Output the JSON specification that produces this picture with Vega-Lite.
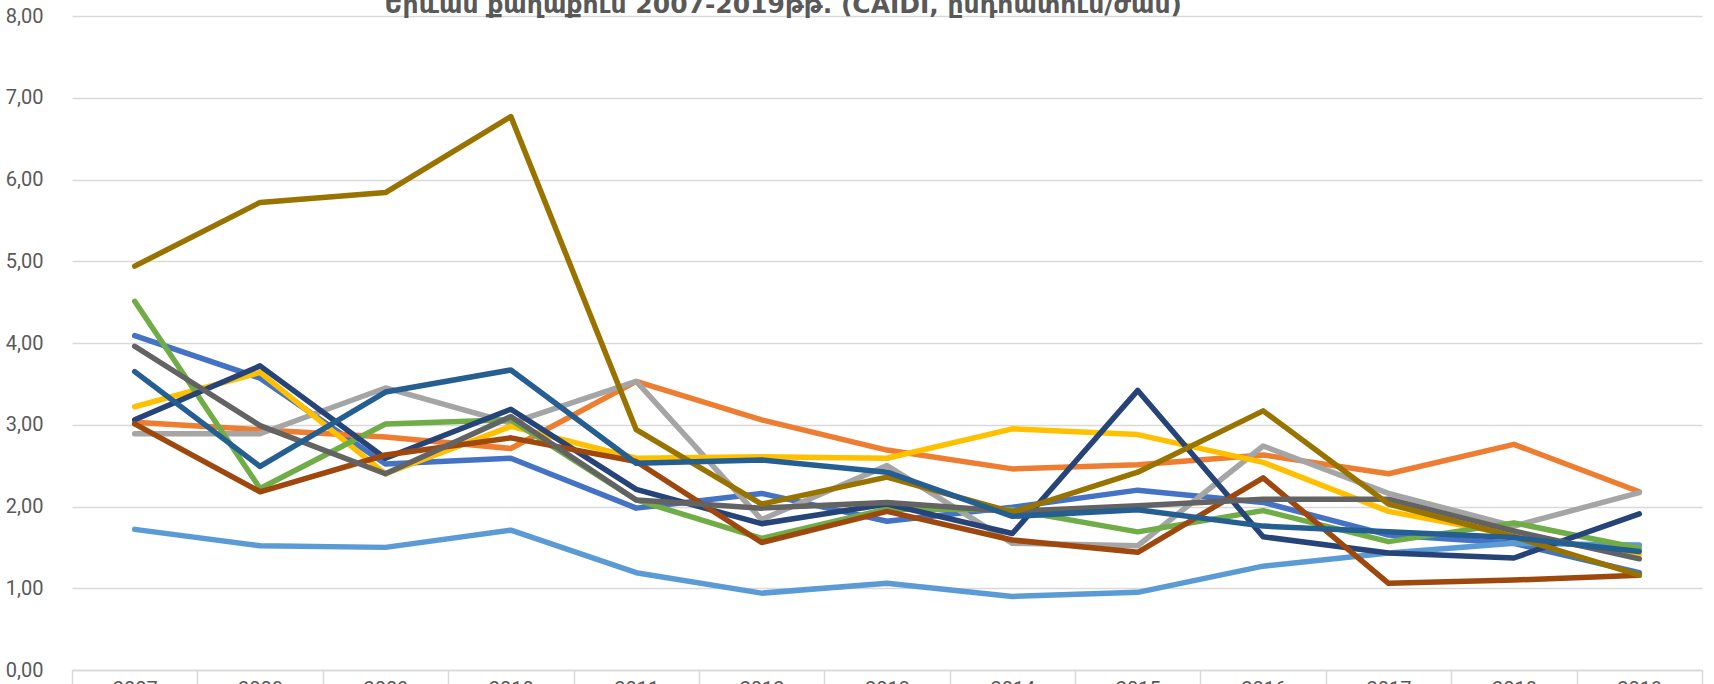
{
  "$schema": "https://vega.github.io/schema/vega-lite/v6.json",
  "autosize": "none",
  "width": 1630,
  "height": 654,
  "padding": {"left": 72, "top": 16, "right": 12, "bottom": 14},
  "background": "white",
  "title": {
    "text": "Երևան քաղաքում 2007-2019թթ. (CAIDI, ընդհատում/ժամ)",
    "anchor": "start",
    "dx": 379,
    "dy": 32,
    "offset": 0,
    "baseline": "alphabetic",
    "font": "DejaVu Sans",
    "fontSize": 25,
    "fontWeight": "bold",
    "color": "#595959"
  },
  "data": {
    "values": [
      {"year": "2007", "series": "S01", "value": 4.09}, {"year": "2008", "series": "S01", "value": 3.57}, {"year": "2009", "series": "S01", "value": 2.52}, {"year": "2010", "series": "S01", "value": 2.59}, {"year": "2011", "series": "S01", "value": 1.98}, {"year": "2012", "series": "S01", "value": 2.16}, {"year": "2013", "series": "S01", "value": 1.82}, {"year": "2014", "series": "S01", "value": 1.99}, {"year": "2015", "series": "S01", "value": 2.20}, {"year": "2016", "series": "S01", "value": 2.05}, {"year": "2017", "series": "S01", "value": 1.65}, {"year": "2018", "series": "S01", "value": 1.55}, {"year": "2019", "series": "S01", "value": 1.19},
      {"year": "2007", "series": "S02", "value": 3.03}, {"year": "2008", "series": "S02", "value": 2.94}, {"year": "2009", "series": "S02", "value": 2.85}, {"year": "2010", "series": "S02", "value": 2.71}, {"year": "2011", "series": "S02", "value": 3.53}, {"year": "2012", "series": "S02", "value": 3.06}, {"year": "2013", "series": "S02", "value": 2.69}, {"year": "2014", "series": "S02", "value": 2.46}, {"year": "2015", "series": "S02", "value": 2.51}, {"year": "2016", "series": "S02", "value": 2.63}, {"year": "2017", "series": "S02", "value": 2.40}, {"year": "2018", "series": "S02", "value": 2.76}, {"year": "2019", "series": "S02", "value": 2.18},
      {"year": "2007", "series": "S03", "value": 2.89}, {"year": "2008", "series": "S03", "value": 2.89}, {"year": "2009", "series": "S03", "value": 3.45}, {"year": "2010", "series": "S03", "value": 3.02}, {"year": "2011", "series": "S03", "value": 3.53}, {"year": "2012", "series": "S03", "value": 1.84}, {"year": "2013", "series": "S03", "value": 2.50}, {"year": "2014", "series": "S03", "value": 1.55}, {"year": "2015", "series": "S03", "value": 1.52}, {"year": "2016", "series": "S03", "value": 2.74}, {"year": "2017", "series": "S03", "value": 2.16}, {"year": "2018", "series": "S03", "value": 1.76}, {"year": "2019", "series": "S03", "value": 2.17},
      {"year": "2007", "series": "S04", "value": 3.22}, {"year": "2008", "series": "S04", "value": 3.64}, {"year": "2009", "series": "S04", "value": 2.40}, {"year": "2010", "series": "S04", "value": 2.98}, {"year": "2011", "series": "S04", "value": 2.59}, {"year": "2012", "series": "S04", "value": 2.61}, {"year": "2013", "series": "S04", "value": 2.59}, {"year": "2014", "series": "S04", "value": 2.95}, {"year": "2015", "series": "S04", "value": 2.88}, {"year": "2016", "series": "S04", "value": 2.54}, {"year": "2017", "series": "S04", "value": 1.94}, {"year": "2018", "series": "S04", "value": 1.65}, {"year": "2019", "series": "S04", "value": 1.41},
      {"year": "2007", "series": "S05", "value": 1.72}, {"year": "2008", "series": "S05", "value": 1.52}, {"year": "2009", "series": "S05", "value": 1.50}, {"year": "2010", "series": "S05", "value": 1.71}, {"year": "2011", "series": "S05", "value": 1.19}, {"year": "2012", "series": "S05", "value": 0.94}, {"year": "2013", "series": "S05", "value": 1.06}, {"year": "2014", "series": "S05", "value": 0.90}, {"year": "2015", "series": "S05", "value": 0.95}, {"year": "2016", "series": "S05", "value": 1.27}, {"year": "2017", "series": "S05", "value": 1.43}, {"year": "2018", "series": "S05", "value": 1.55}, {"year": "2019", "series": "S05", "value": 1.53},
      {"year": "2007", "series": "S06", "value": 4.51}, {"year": "2008", "series": "S06", "value": 2.22}, {"year": "2009", "series": "S06", "value": 3.01}, {"year": "2010", "series": "S06", "value": 3.06}, {"year": "2011", "series": "S06", "value": 2.08}, {"year": "2012", "series": "S06", "value": 1.61}, {"year": "2013", "series": "S06", "value": 1.97}, {"year": "2014", "series": "S06", "value": 1.96}, {"year": "2015", "series": "S06", "value": 1.69}, {"year": "2016", "series": "S06", "value": 1.95}, {"year": "2017", "series": "S06", "value": 1.57}, {"year": "2018", "series": "S06", "value": 1.80}, {"year": "2019", "series": "S06", "value": 1.49},
      {"year": "2007", "series": "S07", "value": 3.06}, {"year": "2008", "series": "S07", "value": 3.72}, {"year": "2009", "series": "S07", "value": 2.59}, {"year": "2010", "series": "S07", "value": 3.19}, {"year": "2011", "series": "S07", "value": 2.21}, {"year": "2012", "series": "S07", "value": 1.79}, {"year": "2013", "series": "S07", "value": 2.03}, {"year": "2014", "series": "S07", "value": 1.67}, {"year": "2015", "series": "S07", "value": 3.42}, {"year": "2016", "series": "S07", "value": 1.63}, {"year": "2017", "series": "S07", "value": 1.43}, {"year": "2018", "series": "S07", "value": 1.37}, {"year": "2019", "series": "S07", "value": 1.91},
      {"year": "2007", "series": "S08", "value": 3.01}, {"year": "2008", "series": "S08", "value": 2.18}, {"year": "2009", "series": "S08", "value": 2.63}, {"year": "2010", "series": "S08", "value": 2.84}, {"year": "2011", "series": "S08", "value": 2.55}, {"year": "2012", "series": "S08", "value": 1.56}, {"year": "2013", "series": "S08", "value": 1.94}, {"year": "2014", "series": "S08", "value": 1.59}, {"year": "2015", "series": "S08", "value": 1.44}, {"year": "2016", "series": "S08", "value": 2.35}, {"year": "2017", "series": "S08", "value": 1.06}, {"year": "2018", "series": "S08", "value": 1.10}, {"year": "2019", "series": "S08", "value": 1.16},
      {"year": "2007", "series": "S09", "value": 3.96}, {"year": "2008", "series": "S09", "value": 2.99}, {"year": "2009", "series": "S09", "value": 2.40}, {"year": "2010", "series": "S09", "value": 3.10}, {"year": "2011", "series": "S09", "value": 2.08}, {"year": "2012", "series": "S09", "value": 1.98}, {"year": "2013", "series": "S09", "value": 2.05}, {"year": "2014", "series": "S09", "value": 1.94}, {"year": "2015", "series": "S09", "value": 2.01}, {"year": "2016", "series": "S09", "value": 2.09}, {"year": "2017", "series": "S09", "value": 2.09}, {"year": "2018", "series": "S09", "value": 1.70}, {"year": "2019", "series": "S09", "value": 1.36},
      {"year": "2007", "series": "S10", "value": 4.94}, {"year": "2008", "series": "S10", "value": 5.72}, {"year": "2009", "series": "S10", "value": 5.84}, {"year": "2010", "series": "S10", "value": 6.77}, {"year": "2011", "series": "S10", "value": 2.94}, {"year": "2012", "series": "S10", "value": 2.03}, {"year": "2013", "series": "S10", "value": 2.36}, {"year": "2014", "series": "S10", "value": 1.93}, {"year": "2015", "series": "S10", "value": 2.42}, {"year": "2016", "series": "S10", "value": 3.17}, {"year": "2017", "series": "S10", "value": 2.03}, {"year": "2018", "series": "S10", "value": 1.63}, {"year": "2019", "series": "S10", "value": 1.16},
      {"year": "2007", "series": "S11", "value": 3.65}, {"year": "2008", "series": "S11", "value": 2.49}, {"year": "2009", "series": "S11", "value": 3.40}, {"year": "2010", "series": "S11", "value": 3.67}, {"year": "2011", "series": "S11", "value": 2.53}, {"year": "2012", "series": "S11", "value": 2.57}, {"year": "2013", "series": "S11", "value": 2.42}, {"year": "2014", "series": "S11", "value": 1.88}, {"year": "2015", "series": "S11", "value": 1.96}, {"year": "2016", "series": "S11", "value": 1.76}, {"year": "2017", "series": "S11", "value": 1.69}, {"year": "2018", "series": "S11", "value": 1.62}, {"year": "2019", "series": "S11", "value": 1.45}
    ]
  },
  "mark": {"type": "line", "strokeWidth": 5.5, "strokeCap": "round", "strokeJoin": "round"},
  "encoding": {
    "x": {
      "field": "year",
      "type": "ordinal",
      "scale": {"type": "band", "paddingInner": 0, "paddingOuter": 0},
      "axis": {
        "title": null,
        "labelAngle": 0,
        "labelFont": "Roboto",
        "labelFontSize": 20,
        "labelColor": "#595959",
        "labelPadding": -11,
        "tickBand": "extent",
        "tickSize": 20,
        "tickColor": "#d9d9d9",
        "tickWidth": 1.5,
        "domainColor": "#d9d9d9",
        "domainWidth": 1.5,
        "grid": false
      }
    },
    "y": {
      "field": "value",
      "type": "quantitative",
      "scale": {"domain": [0, 8], "nice": false, "zero": true},
      "axis": {
        "title": null,
        "values": [0, 1, 2, 3, 4, 5, 6, 7, 8],
        "labelExpr": "replace(format(datum.value, '.2f'), '.', ',')",
        "labelFont": "Roboto",
        "labelFontSize": 20,
        "labelColor": "#595959",
        "labelPadding": 29,
        "ticks": false,
        "domain": false,
        "grid": true,
        "gridColor": "#d9d9d9",
        "gridWidth": 1.5
      }
    },
    "color": {
      "field": "series",
      "type": "nominal",
      "scale": {
        "domain": ["S01", "S02", "S03", "S04", "S05", "S06", "S07", "S08", "S09", "S10", "S11"],
        "range": ["#4472C4", "#ED7D31", "#A5A5A5", "#FFC000", "#5B9BD5", "#70AD47", "#264478", "#9E480E", "#636363", "#997300", "#255E91"]
      },
      "legend": null
    }
  },
  "config": {"view": {"stroke": null}}
}
